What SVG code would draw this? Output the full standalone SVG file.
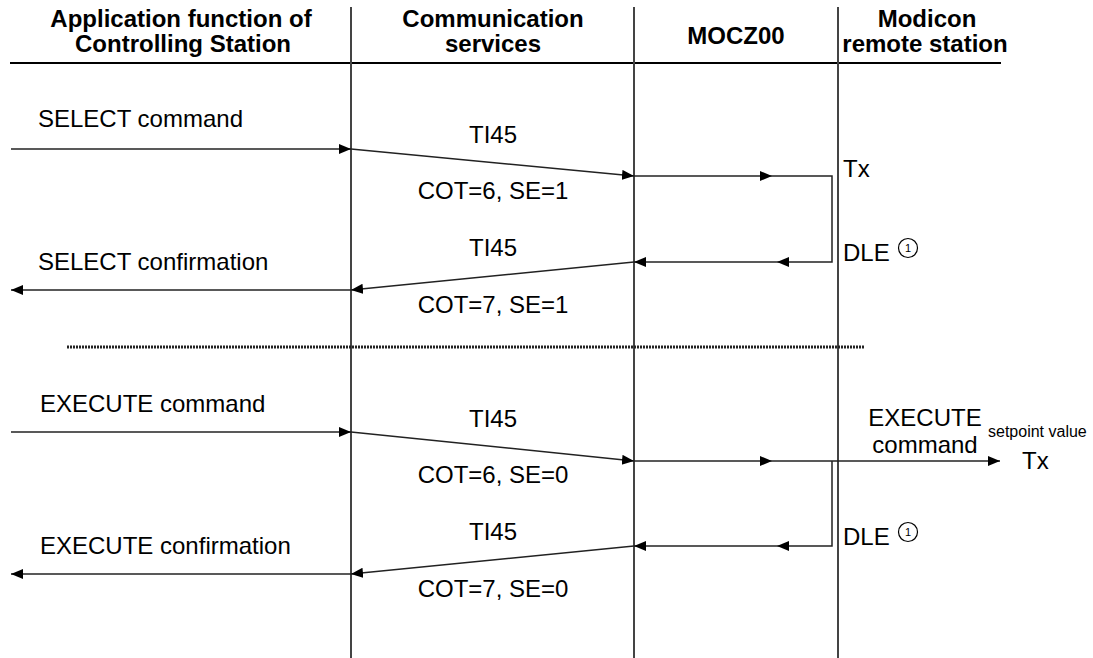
<svg xmlns="http://www.w3.org/2000/svg" width="1093" height="658" viewBox="0 0 1093 658">
  <defs>
    <marker id="arr" markerUnits="userSpaceOnUse" markerWidth="13" markerHeight="11" refX="12" refY="5" orient="auto">
      <path d="M0,0 L12,5 L0,10 z" fill="#000"/>
    </marker>
    <style>
      .hdr { font-family: "Liberation Sans", Arial, sans-serif; font-size: 24px; font-weight: bold; fill: #000; text-anchor: middle; }
      .lbl { font-family: "Liberation Sans", Arial, sans-serif; font-size: 24px; fill: #000; }
      .mid { text-anchor: middle; }
      .small { font-family: "Liberation Sans", Arial, sans-serif; font-size: 16px; fill: #000; }
      .life { stroke: #444; stroke-width: 2; fill: none; }
      .msg { stroke: #222; stroke-width: 1.5; fill: none; }
      .arrow { marker-end: url(#arr); }
      .circ { fill: none; stroke: #000; stroke-width: 1.2; }
      .num { font-family: "Liberation Sans", Arial, sans-serif; font-size: 11px; fill: #000; text-anchor: middle; }
    </style>
  </defs>
  <rect width="1093" height="658" fill="#fff"/>

  <!-- column headers -->
  <g id="col-application">
    <text class="hdr" x="181" y="27">Application function of</text>
    <text class="hdr" x="183" y="52">Controlling Station</text>
  </g>
  <g id="col-communication">
    <text class="hdr" x="493" y="27">Communication</text>
    <text class="hdr" x="493" y="52">services</text>
  </g>
  <g id="col-mocz00">
    <text class="hdr" x="736" y="44">MOCZ00</text>
  </g>
  <g id="col-modicon">
    <text class="hdr" x="927" y="27">Modicon</text>
    <text class="hdr" x="925" y="52">remote station</text>
  </g>

  <!-- header rule, lifelines and phase separator -->
  <g id="frame">
    <line x1="10" y1="63" x2="1001" y2="63" stroke="#000" stroke-width="2"/>
    <line class="life" x1="351" y1="7" x2="351" y2="658"/>
    <line class="life" x1="634" y1="7" x2="634" y2="658"/>
    <line class="life" x1="838" y1="7" x2="838" y2="658"/>
    <line x1="67" y1="347" x2="864" y2="347" stroke="#222" stroke-width="3" stroke-dasharray="2 1"/>
  </g>

  <!-- message connectors -->
  <g id="connectors">
    <!-- select phase -->
    <line class="msg arrow" x1="11" y1="149" x2="351" y2="149"/>
    <line class="msg arrow" x1="351" y1="149" x2="634" y2="176"/>
    <line class="msg arrow" x1="634" y1="176" x2="772" y2="176"/>
    <polyline class="msg arrow" points="772,176 832,176 832,262 777,262"/>
    <line class="msg arrow" x1="777" y1="262" x2="634" y2="262"/>
    <line class="msg arrow" x1="634" y1="262" x2="351" y2="290"/>
    <line class="msg arrow" x1="351" y1="290" x2="11" y2="290"/>
    <!-- execute phase -->
    <line class="msg arrow" x1="11" y1="432" x2="351" y2="432"/>
    <line class="msg arrow" x1="351" y1="432" x2="634" y2="461"/>
    <line class="msg arrow" x1="634" y1="461" x2="772" y2="461"/>
    <line class="msg arrow" x1="772" y1="461" x2="1000" y2="461"/>
    <polyline class="msg arrow" points="832,461 832,546 777,546"/>
    <line class="msg arrow" x1="777" y1="546" x2="634" y2="546"/>
    <line class="msg arrow" x1="634" y1="546" x2="351" y2="574"/>
    <line class="msg arrow" x1="351" y1="574" x2="11" y2="574"/>
  </g>

  <!-- select phase labels -->
  <g id="select-labels">
    <text class="lbl" x="38" y="127">SELECT command</text>
    <text class="lbl mid" x="493" y="143">TI45</text>
    <text class="lbl mid" x="493" y="199">COT=6, SE=1</text>
    <text class="lbl" x="843" y="177">Tx</text>
    <text class="lbl mid" x="493" y="256">TI45</text>
    <text class="lbl" x="38" y="270">SELECT confirmation</text>
    <text class="lbl" x="843" y="261">DLE</text>
    <circle class="circ" cx="908" cy="248" r="9.5"/>
    <text class="num" x="908" y="252">1</text>
    <text class="lbl mid" x="493" y="313">COT=7, SE=1</text>
  </g>

  <!-- execute phase labels -->
  <g id="execute-labels">
    <text class="lbl" x="40" y="412">EXECUTE command</text>
    <text class="lbl mid" x="493" y="427">TI45</text>
    <text class="lbl mid" x="493" y="483">COT=6, SE=0</text>
    <text class="lbl mid" x="925" y="426">EXECUTE</text>
    <text class="lbl mid" x="925" y="453">command</text>
    <text class="small" x="988" y="437">setpoint value</text>
    <text class="lbl" x="1022" y="469">Tx</text>
    <text class="lbl mid" x="493" y="540">TI45</text>
    <text class="lbl" x="40" y="554">EXECUTE confirmation</text>
    <text class="lbl" x="843" y="545">DLE</text>
    <circle class="circ" cx="908" cy="532" r="9.5"/>
    <text class="num" x="908" y="536">1</text>
    <text class="lbl mid" x="493" y="597">COT=7, SE=0</text>
  </g>
</svg>
